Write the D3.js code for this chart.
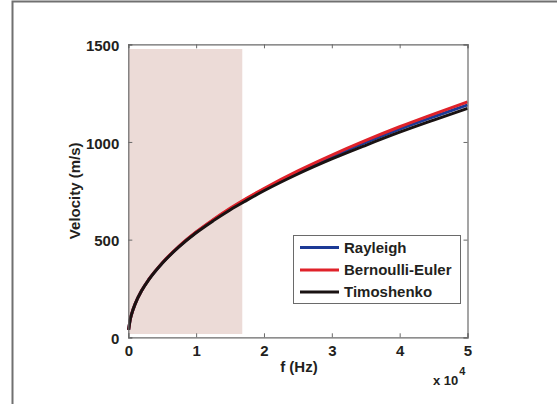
<!DOCTYPE html>
<html>
<head>
<meta charset="utf-8">
<script src="https://cdn.jsdelivr.net/npm/d3@7"></script>
<style>
  html, body { margin: 0; padding: 0; background: #fff; }
  svg { display: block; }
  text { font-family: "Liberation Sans", Arial, sans-serif; font-weight: bold; fill: #231f20; }
</style>
</head>
<body>
<svg id="chart" width="557" height="404"></svg>
<script>
// Frequency samples (Hz)
const freq = [50, 250, 500, 1000, 2000, 3000, 5000, 7500, 10000, 12500, 15000, 17500,
              20000, 25000, 30000, 35000, 40000, 45000, 50000];
// Phase velocity (m/s) for each beam model
const rayleigh = [38, 85, 120, 170, 241, 295, 380, 466, 538, 600, 657, 709,
                  757, 846, 925, 998, 1066, 1129, 1190];
const bernoulliEuler = [38, 85, 120, 170, 241, 295, 381, 467, 539, 602, 660, 713,
                        762, 852, 933, 1008, 1078, 1143, 1205];
const timoshenko = [38, 85, 120, 170, 241, 294, 379, 464, 535, 596, 652, 702,
                    750, 836, 913, 983, 1050, 1112, 1172];

const seriesNames = ["Rayleigh", "Bernoulli-Euler", "Timoshenko"];
const seriesColors = ["#1c3a96", "#e0222a", "#1a1212"];

// Shaded low-frequency band [f start, f end] and [v bottom, v top]
const bandF = [0, 16800];
const bandV = [17, 1476];

const xTicks = [0, 10000, 20000, 30000, 40000, 50000];
const xTickLabels = ["0", "1", "2", "3", "4", "5"];
const yTicks = [0, 500, 1000, 1500];
const yTickLabels = ["0", "500", "1000", "1500"];

const svg = d3.select("#chart");

// Outer figure frame
svg.append("rect")
  .attr("x", 12.5).attr("y", 1.5)
  .attr("width", 700).attr("height", 600)
  .attr("fill", "none").attr("stroke", "#707070").attr("stroke-width", 2);

const plot = { left: 128.3, right: 467.5, top: 44.3, bottom: 337.3 };

const x = d3.scaleLinear().domain([0, 50000]).range([plot.left, plot.right]);
const y = d3.scaleLinear().domain([0, 1500]).range([plot.bottom, plot.top]);

// Shaded band
svg.append("rect")
  .attr("x", x(bandF[0]))
  .attr("y", y(bandV[1]))
  .attr("width", x(bandF[1]) - x(bandF[0]))
  .attr("height", y(bandV[0]) - y(bandV[1]))
  .attr("fill", "#ecdbd7");

// Curves
const line = d3.line()
  .x(d => x(d[0]))
  .y(d => y(d[1]))
  .curve(d3.curveMonotoneX);

const allSeries = [rayleigh, bernoulliEuler, timoshenko];
allSeries.forEach((vals, i) => {
  svg.append("path")
    .datum(freq.map((f, k) => [f, vals[k]]))
    .attr("d", line)
    .attr("fill", "none")
    .attr("stroke", seriesColors[i])
    .attr("stroke-width", 3)
    .attr("stroke-linejoin", "round");
});

// Axes with inward ticks on all four sides
const axisColor = "#6a6a6a";
const tickLen = 4;

const gBottom = svg.append("g").attr("transform", `translate(0,${plot.bottom})`)
  .call(d3.axisBottom(x).tickValues(xTicks).tickSize(-tickLen).tickPadding(8)
    .tickFormat((d, i) => xTickLabels[i]));
const gTop = svg.append("g").attr("transform", `translate(0,${plot.top})`)
  .call(d3.axisTop(x).tickValues(xTicks).tickSize(-tickLen).tickFormat(""));
const gLeft = svg.append("g").attr("transform", `translate(${plot.left},0)`)
  .call(d3.axisLeft(y).tickValues(yTicks).tickSize(-tickLen).tickPadding(9)
    .tickFormat((d, i) => yTickLabels[i]));
const gRight = svg.append("g").attr("transform", `translate(${plot.right},0)`)
  .call(d3.axisRight(y).tickValues(yTicks).tickSize(-tickLen).tickFormat(""));

[gBottom, gTop, gLeft, gRight].forEach(g => {
  g.select(".domain").attr("stroke", axisColor).attr("stroke-width", 1.2);
  g.selectAll(".tick line").attr("stroke", axisColor);
  g.selectAll("text").attr("font-size", 15)
    .attr("font-family", "'Liberation Sans', Arial, sans-serif")
    .attr("font-weight", "bold").attr("fill", "#231f20");
});
gLeft.selectAll(".tick text").attr("dy", "0.42em");

// Axis titles
svg.append("text")
  .attr("x", (plot.left + plot.right) / 2 + 1)
  .attr("y", 372)
  .attr("text-anchor", "middle")
  .attr("font-size", 15)
  .text("f (Hz)");

svg.append("text")
  .attr("transform", `translate(80,${(plot.top + plot.bottom) / 2}) rotate(-90)`)
  .attr("text-anchor", "middle")
  .attr("font-size", 15)
  .text("Velocity (m/s)");

// Exponent label for the x axis
const expo = svg.append("text")
  .attr("x", 433).attr("y", 385)
  .attr("font-size", 13);
expo.append("tspan").text("x 10");
expo.append("tspan").attr("dy", -10).attr("dx", 1).attr("font-size", 11).text("4");

// Legend
const legend = svg.append("g");
legend.append("rect")
  .attr("x", 293.5).attr("y", 235.5)
  .attr("width", 167).attr("height", 68)
  .attr("fill", "#fff").attr("stroke", axisColor).attr("stroke-width", 1);

const rowY = [247.5, 270, 292];
seriesNames.forEach((name, i) => {
  legend.append("line")
    .attr("x1", 300).attr("x2", 339)
    .attr("y1", rowY[i]).attr("y2", rowY[i])
    .attr("stroke", seriesColors[i]).attr("stroke-width", 3);
  legend.append("text")
    .attr("x", 344).attr("y", rowY[i])
    .attr("dy", "0.36em")
    .attr("font-size", 15)
    .text(name);
});
</script>
</body>
</html>
